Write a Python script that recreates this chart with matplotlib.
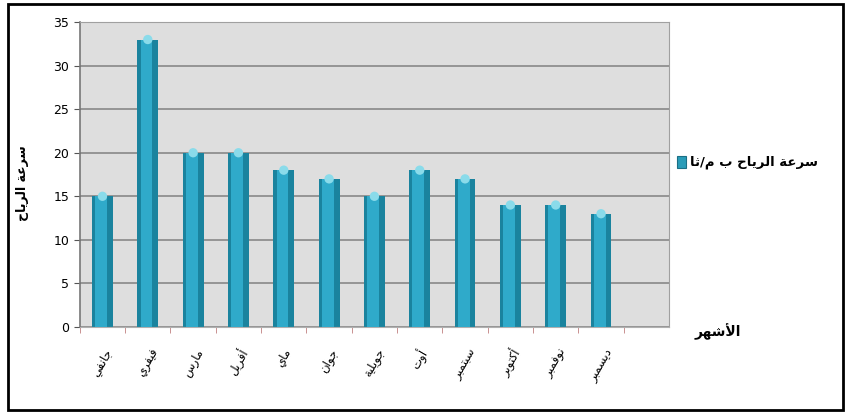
import numpy as np
import matplotlib.pyplot as plt
from matplotlib.patches import Rectangle

# البيانات
months = ['جانفي', 'فيفري', 'مارس', 'أفريل', 'ماي', 'جوان',
          'جويلية', 'أوت', 'سبتمبر', 'أكتوبر', 'نوفمبر', 'ديسمبر']
wind_speed = [15, 33, 20, 20, 18, 17, 15, 18, 17, 14, 14, 13]
y_ticks = [0, 5, 10, 15, 20, 25, 30, 35]
series_name = 'سرعة الرياح ب م/ثا'
x_title = 'الأشهر'
y_title = 'سرعة الرياح'

# أشكال الحروف العربية (معزول، نهائي، ابتدائي، وسطي)
FORMS = {
    'ا': (0xFE8D, 2), 'أ': (0xFE83, 2), 'ب': (0xFE8F, 4), 'ة': (0xFE93, 2),
    'ت': (0xFE95, 4), 'ث': (0xFE99, 4), 'ج': (0xFE9D, 4), 'ح': (0xFEA1, 4),
    'د': (0xFEA9, 2), 'ر': (0xFEAD, 2), 'س': (0xFEB1, 4), 'ش': (0xFEB5, 4),
    'ع': (0xFEC9, 4), 'ف': (0xFED1, 4), 'ك': (0xFED9, 4), 'ل': (0xFEDD, 4),
    'م': (0xFEE1, 4), 'ن': (0xFEE5, 4), 'ه': (0xFEE9, 4), 'و': (0xFEED, 2),
    'ي': (0xFEF1, 4),
    '\u0001': (0xFEFB, 2), '\u0002': (0xFEF7, 2),  # لا ، لأ
}


def shape(text):
    s = text.replace('لا', '\u0001').replace('لأ', '\u0002')
    out = []
    for i, ch in enumerate(s):
        if ch not in FORMS:
            out.append(ch)
            continue
        base, n = FORMS[ch]
        prev = s[i - 1] if i > 0 else ''
        nxt = s[i + 1] if i + 1 < len(s) else ''
        join_prev = prev in FORMS and FORMS[prev][1] == 4
        join_next = n == 4 and nxt in FORMS
        if join_prev and join_next:
            cp = base + 3
        elif join_next:
            cp = base + 2
        elif join_prev:
            cp = base + 1
        else:
            cp = base
        out.append(chr(cp))
    return ''.join(out)[::-1]


plt.rcParams['font.family'] = ['DejaVu Sans']

fig = plt.figure(figsize=(8.49, 4.17), dpi=100)
ax = fig.add_axes([0.094, 0.216, 0.694, 0.731])

x = np.arange(len(months))
ax.set_facecolor('#dedede')
ax.set_axisbelow(True)
ax.yaxis.grid(True, color='#959595', linewidth=1.4)

# أعمدة أسطوانية تقريبية
ax.bar(x, wind_speed, width=0.46, color='#1a839e', zorder=2)
ax.bar(x - 0.03, wind_speed, width=0.26, color='#2faaca', zorder=3)
ax.scatter(x, wind_speed, s=45, marker='o', color='#8adbea',
           edgecolors='none', zorder=4)

ax.set_xlim(-0.5, 12.5)
ax.set_ylim(0, 35)
ax.set_yticks(y_ticks)
ax.set_yticklabels([str(v) for v in y_ticks], fontsize=9)
ax.set_xticks(np.arange(-0.5, 12.5, 1.0), minor=True)
ax.set_xticks(x)
ax.set_xticklabels([shape(m) for m in months], rotation=60,
                   ha='center', va='top', fontsize=8.5)
ax.tick_params(axis='x', which='major', length=0, pad=14)
ax.tick_params(axis='x', which='minor', length=4, color='#c08080')
ax.tick_params(axis='y', length=4, color='#555555')

for side in ['top', 'right']:
    ax.spines[side].set_color('#a0a0a0')
ax.spines['left'].set_color('#777777')
ax.spines['bottom'].set_color('#b0b0b0')
ax.spines['left'].set_linewidth(1.2)

# عنوان المحاور
fig.text(0.027, 0.56, shape(y_title), rotation=90, ha='center', va='center',
         fontsize=9, fontweight='bold')
fig.text(0.845, 0.205, shape(x_title), ha='center', va='center',
         fontsize=10, fontweight='bold')

# وسيلة الإيضاح
fig.patches.append(Rectangle((0.797, 0.598), 0.011, 0.027,
                             transform=fig.transFigure, facecolor='#2a9cb8',
                             edgecolor='#1b6f85', linewidth=0.8))
fig.text(0.813, 0.612, shape(series_name), ha='left', va='center',
         fontsize=9.5, fontweight='bold')

# إطار خارجي
fig.patches.append(Rectangle((0.010, 0.017), 0.983, 0.973,
                             transform=fig.transFigure, fill=False,
                             edgecolor='black', linewidth=2))

fig.savefig('out.png', dpi=100)
